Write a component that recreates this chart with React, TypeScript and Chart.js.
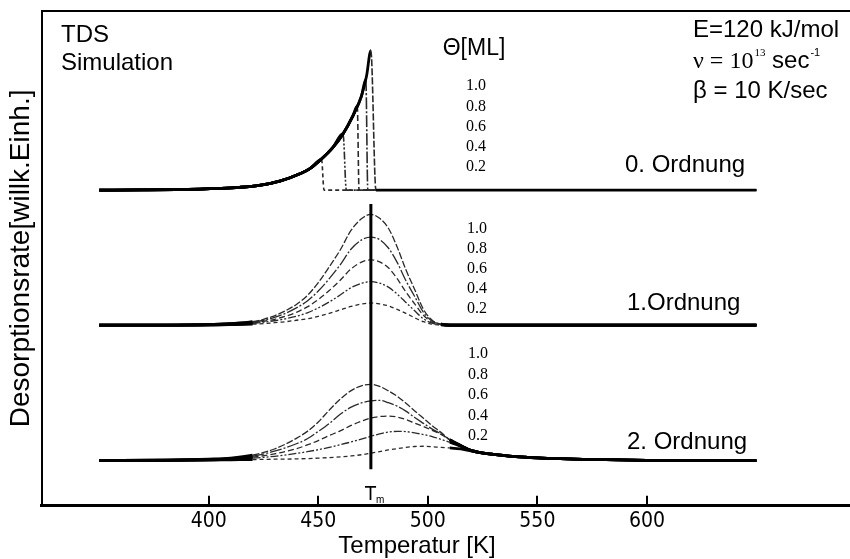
import React, { useEffect, useRef } from 'react';
import { Chart, registerables } from 'chart.js';

Chart.register(...registerables);

// ---------- axes ----------
const X_MIN = 323.7;
const X_MAX = 692.7;
const Y_MIN = 0;
const Y_MAX = 500;
const X_TICKS = [400, 450, 500, 550, 600];
const X_TITLE = 'Temperatur [K]';
const Y_TITLE = 'Desorptionsrate[willk.Einh.]';

// ---------- coverage labels ----------
const COVERAGES = ['1.0', '0.8', '0.6', '0.4', '0.2'];
const T_M = 474;
const TM_LINE_Y = [37, 305];

// vertical offsets of the three stacked traces (arbitrary units)
const OFFSET_ZERO = 319;
const OFFSET_FIRST = 182.5;
const OFFSET_SECOND = 45.7;

// ---------- 0. Ordnung (zero order) ----------
const ZERO_T_10 = [350, 370, 385, 396, 405, 414, 423, 432.4, 441.6, 446, 450.7, 456.6, 461.2, 465.8, 469.7, 472, 474, 476.3, 650];
const ZERO_10 = [0, 0.2, 0.5, 1, 1.7, 2.8, 4.8, 9, 16.5, 21.5, 30, 43, 56.5, 75, 95, 115, 141, 0, 0];
const ZERO_T_08 = [350, 370, 385, 396, 405, 414, 423, 432.4, 441.6, 446, 450.7, 456.6, 461.2, 465.8, 469.7, 471.7, 472.6, 650];
const ZERO_08 = [0, 0.2, 0.5, 1, 1.7, 2.8, 4.8, 9, 16.5, 21.5, 30, 43, 56.5, 75, 95, 112, 0, 0];
const ZERO_T_06 = [350, 370, 385, 396, 405, 414, 423, 432.4, 441.6, 446, 450.7, 456.6, 461.2, 465.8, 467.8, 468.6, 650];
const ZERO_06 = [0, 0.2, 0.5, 1, 1.7, 2.8, 4.8, 9, 16.5, 21.5, 30, 43, 56.5, 75, 85, 0, 0];
const ZERO_T_04 = [350, 370, 385, 396, 405, 414, 423, 432.4, 441.6, 446, 450.7, 456.6, 461.3, 462.8, 650];
const ZERO_04 = [0, 0.2, 0.5, 1, 1.7, 2.8, 4.8, 9, 16.5, 21.5, 30, 43, 57, 0, 0];
const ZERO_T_02 = [350, 370, 385, 396, 405, 414, 423, 432.4, 441.6, 446, 451.5, 452.6, 650];
const ZERO_02 = [0, 0.2, 0.5, 1, 1.7, 2.8, 4.8, 9, 16.5, 21.5, 31, 0, 0];

// ---------- 1. Ordnung (first order) ----------
const FIRST_T = [350, 380, 400, 410, 420, 425, 430, 435, 440, 445, 450, 455, 460, 465, 470, 474, 478, 482, 486, 490, 494, 498, 502, 506, 510, 650];
const FIRST_10 = [0, 0, 0.5, 1.5, 3.5, 6, 9.5, 14.5, 21, 30, 43, 59, 76, 96, 108, 112, 108, 98, 79, 56, 36, 16, 5, 1, 0, 0];
const FIRST_08 = [0, 0, 0.5, 1.5, 3, 5, 8, 12, 17.5, 24.5, 34.5, 47, 61, 77, 86.5, 89, 86.5, 78, 63.5, 45, 29, 13, 4, 1, 0, 0];
const FIRST_06 = [0, 0, 0.5, 1, 2.5, 4, 6, 9, 13, 18.5, 26, 35, 45.5, 57, 64, 66, 64, 58, 47, 33.5, 21.5, 10, 3, 1, 0, 0];
const FIRST_04 = [0, 0, 0.3, 0.8, 1.8, 3, 4.5, 6.5, 9, 12.5, 17.5, 23.5, 30.5, 38, 42.5, 44, 42.5, 38.5, 31.5, 23, 14.5, 6.5, 2, 0.5, 0, 0];
const FIRST_02 = [0, 0, 0.2, 0.5, 1, 1.5, 2.5, 3.5, 5, 6.5, 9, 12, 15.5, 19, 21.5, 22.5, 21.5, 19.5, 16, 12, 7.5, 3.5, 1, 0.3, 0, 0];

// ---------- 2. Ordnung (second order) ----------
const SECOND_T = [350, 380, 400, 410, 420, 430, 440, 445, 450, 455, 460, 465, 470, 474, 478, 482, 486, 490, 494, 498, 502, 506, 510, 515, 520, 530, 540, 550, 575, 600, 650];
const SECOND_10 = [0, 0.5, 1.5, 2.5, 5.5, 11.7, 22.5, 29.5, 39, 51, 62, 70.7, 75.8, 77, 75, 70.4, 65, 58, 50.2, 42.7, 35.2, 28.5, 21, 15.2, 10, 6.2, 4, 2.8, 1.2, 0.3, 0];
const SECOND_08 = [0, 0.5, 1.2, 2, 4.5, 9.5, 17, 22, 29.5, 37.5, 46.8, 54, 58.5, 60.3, 60.8, 58.5, 55, 50, 43.5, 37.6, 31.8, 27, 21, 15, 10, 6.2, 4, 2.8, 1.2, 0.3, 0];
const SECOND_06 = [0, 0.4, 1, 1.8, 3.5, 6.8, 12, 15.8, 20.2, 25.3, 30, 35.5, 40, 43, 44.5, 45, 44, 41.5, 37.8, 34.5, 30.5, 26.5, 21, 15, 10, 6.2, 4, 2.8, 1.2, 0.3, 0];
const SECOND_04 = [0, 0.3, 0.8, 1.3, 2.5, 4.3, 7.2, 9, 11, 13.4, 16, 18.8, 22, 24.5, 27, 28.8, 29.5, 29.3, 28, 26.3, 24.3, 21.5, 18.5, 14.5, 10, 6.2, 4, 2.8, 1.2, 0.3, 0];
const SECOND_02 = [0, 0.2, 0.5, 0.8, 1, 1.4, 1.7, 2, 2.5, 3, 3.7, 4.7, 6, 7.5, 9, 10.8, 12, 13.3, 14.2, 14.5, 14, 13.3, 12.8, 11.8, 9.6, 6.2, 4, 2.8, 1.2, 0.3, 0];

// ---------- styles ----------
const SANS = '"Liberation Sans", Arial, Helvetica, sans-serif';
const NARROW = '"Liberation Sans Narrow", "DejaVu Sans Condensed", "Liberation Sans", Arial, sans-serif';
const SERIF = '"Liberation Serif", "Times New Roman", serif';
const INK = '#000';
const THIN_INK = '#2a2a2a';
const THICK_W = 2.8;
const THIN_W = 1.3;
const DASHES = [[7, 2], [12, 2, 2, 2], [6, 3], [8, 2, 2, 2, 2, 2], [4, 3]];
const MERGE = { first: [420, 506], second: [425, 510] } as any;

function makeDataset(temps: number[], rates: number[], offset: number, kind: string, idx: number) {
  const thick = (i0: number, i1: number) => {
    const v0 = rates[i0];
    const v1 = rates[i1];
    if (kind === 'zero') {
      if (v0 > 0 && v1 > 0) return true;
      if (v0 === 0 && v1 > 0) return true;
      if (v0 === 0 && v1 === 0) return idx === 0;
      return false;
    }
    const [lo, hi] = MERGE[kind];
    return temps[i1] <= lo || temps[i0] >= hi;
  };
  return {
    data: temps.map((t, i) => ({ x: t, y: offset + rates[i] })),
    borderColor: THIN_INK,
    borderWidth: THIN_W,
    pointRadius: 0,
    fill: false,
    cubicInterpolationMode: 'monotone',
    segment: {
      borderWidth: (c: any) => (thick(c.p0DataIndex, c.p1DataIndex) ? THICK_W : kind === 'zero' ? 1.6 : THIN_W),
      borderDash: (c: any) => (thick(c.p0DataIndex, c.p1DataIndex) ? [] : DASHES[idx]),
      borderColor: (c: any) => (thick(c.p0DataIndex, c.p1DataIndex) ? INK : THIN_INK),
    },
  };
}

const annotationPlugin = {
  id: 'tdsAnnotations',
  afterDraw(chart: any) {
    const { ctx, chartArea } = chart;
    const xs = chart.scales.x;
    ctx.save();
    // inward tick marks
    ctx.strokeStyle = INK;
    ctx.lineWidth = 2;
    X_TICKS.forEach((t) => {
      const px = Math.round(xs.getPixelForValue(t));
      ctx.beginPath();
      ctx.moveTo(px, chartArea.bottom);
      ctx.lineTo(px, chartArea.bottom - 10);
      ctx.stroke();
    });

    ctx.fillStyle = INK;
    ctx.textBaseline = 'alphabetic';
    ctx.textAlign = 'center';
    ctx.font = `24px ${SANS}`;
    ctx.fillText(X_TITLE, 417, 553);

    // T_m
    const tmx = xs.getPixelForValue(T_M);
    ctx.textAlign = 'left';
    ctx.font = `20px ${NARROW}`;
    ctx.fillText('T', tmx - 6, 500);
    ctx.font = `10px ${SANS}`;
    ctx.fillText('m', tmx + 5, 503);

    // top-left
    ctx.font = `24px ${SANS}`;
    ctx.fillText('TDS', 61, 42);
    ctx.fillText('Simulation', 61, 70);

    // top-right parameters
    ctx.fillText('E=120 kJ/mol', 693, 37);
    let x = 693;
    const y2 = 68;
    ctx.font = `24px ${SERIF}`;
    ctx.fillText('\u03bd = 10', x, y2);
    x += ctx.measureText('\u03bd = 10').width + 1;
    ctx.font = `11px ${SERIF}`;
    ctx.fillText('13', x, y2 - 12);
    x += ctx.measureText('13').width;
    ctx.font = `24px ${SANS}`;
    ctx.fillText(' sec', x, y2);
    x += ctx.measureText(' sec').width + 1;
    ctx.font = `11px ${SANS}`;
    ctx.fillText('-1', x, y2 - 12);
    ctx.font = `24px ${SANS}`;
    ctx.fillText('\u03b2 = 10 K/sec', 693, 98);

    // order labels
    ctx.fillText('0. Ordnung', 625, 171.5);
    ctx.fillText('1.Ordnung', 627, 309.5);
    ctx.fillText('2. Ordnung', 627, 448.5);

    // Theta header
    ctx.textAlign = 'center';
    ctx.font = `23px ${SANS}`;
    ctx.fillText('\u0398[ML]', 474, 55);

    // coverage columns
    ctx.font = `16px ${SERIF}`;
    ctx.textBaseline = 'middle';
    const cols = [
      { x: 476, ys: [86, 106.7, 126.7, 146.7, 166.7] },
      { x: 477, ys: [228.3, 248.3, 269, 289, 308.3] },
      { x: 478, ys: [353.3, 374.3, 395, 415.7, 436] },
    ];
    cols.forEach((col) => {
      COVERAGES.forEach((label, i) => ctx.fillText(label, col.x, col.ys[i]));
    });
    ctx.restore();
  },
};

export default function App() {
  const canvasRef = useRef<HTMLCanvasElement | null>(null);

  useEffect(() => {
    const canvas = canvasRef.current;
    if (!canvas) return;

    const zero = [
      [ZERO_T_10, ZERO_10],
      [ZERO_T_08, ZERO_08],
      [ZERO_T_06, ZERO_06],
      [ZERO_T_04, ZERO_04],
      [ZERO_T_02, ZERO_02],
    ];
    const first = [FIRST_10, FIRST_08, FIRST_06, FIRST_04, FIRST_02];
    const second = [SECOND_10, SECOND_08, SECOND_06, SECOND_04, SECOND_02];

    const datasets: any[] = [];
    datasets.push({
      data: TM_LINE_Y.map((v) => ({ x: T_M, y: v })),
      borderColor: INK,
      borderWidth: 3,
      pointRadius: 0,
      fill: false,
      order: 0,
    });
    zero.forEach(([t, r], i) => datasets.push({ ...makeDataset(t, r, OFFSET_ZERO, 'zero', i), order: 1 + i }));
    first.forEach((r, i) => datasets.push({ ...makeDataset(FIRST_T, r, OFFSET_FIRST, 'first', i), order: 1 + i }));
    second.forEach((r, i) => datasets.push({ ...makeDataset(SECOND_T, r, OFFSET_SECOND, 'second', i), order: 1 + i }));

    const chart = new Chart(canvas, {
      type: 'line',
      data: { datasets },
      options: {
        animation: false,
        responsive: false,
        devicePixelRatio: 1,
        layout: { padding: { top: 11, right: 0, bottom: 22, left: 0 } },
        plugins: { legend: { display: false }, tooltip: { enabled: false } },
        elements: { point: { radius: 0 } },
        scales: {
          x: {
            type: 'linear',
            position: 'bottom',
            min: X_MIN,
            max: X_MAX,
            grid: { display: false, drawTicks: false },
            border: { display: true, color: INK, width: 3 },
            afterBuildTicks: (axis: any) => {
              axis.ticks = X_TICKS.map((value) => ({ value }));
            },
            ticks: {
              color: INK,
              font: { family: NARROW, size: 21 },
              padding: 3,
              maxRotation: 0,
              autoSkip: false,
            },
          },
          xTop: {
            type: 'linear',
            position: 'top',
            min: X_MIN,
            max: X_MAX,
            grid: { display: false, drawTicks: false },
            border: { display: true, color: INK, width: 2 },
            ticks: { display: false },
          },
          y: {
            type: 'linear',
            min: Y_MIN,
            max: Y_MAX,
            grid: { display: false, drawTicks: false },
            border: { display: true, color: INK, width: 2 },
            ticks: { display: false },
            title: {
              display: true,
              text: Y_TITLE,
              color: INK,
              font: { family: SANS, size: 28 },
              padding: { top: 4, bottom: 4 },
            },
          },
        },
      } as any,
      plugins: [annotationPlugin],
    } as any);

    return () => chart.destroy();
  }, []);

  return (
    <div style={{ position: 'absolute', left: 0, top: 0, width: 850, height: 559, background: '#fff' }}>
      <canvas ref={canvasRef} width={850} height={559} style={{ display: 'block' }} />
    </div>
  );
}
